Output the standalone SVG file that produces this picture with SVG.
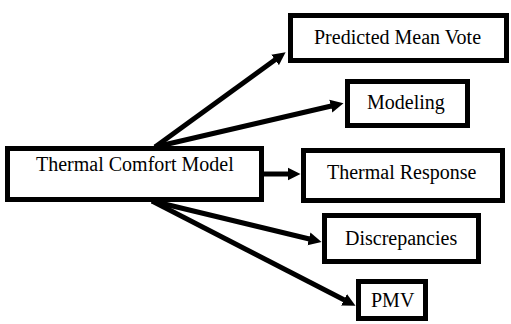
<svg xmlns="http://www.w3.org/2000/svg" width="511" height="324" viewBox="0 0 511 324">
<style>
.box{fill:#fff;stroke:#000;stroke-width:5}
.conn{stroke:#000;stroke-width:5;fill:none;marker-end:url(#ah)}
</style>
<defs>
<marker id="ah" markerUnits="userSpaceOnUse" markerWidth="14" markerHeight="14" viewBox="0 -7 14 14" refX="0.5" refY="0" orient="auto">
<path d="M0,-6.5 L13,0 L0,6.5 z" fill="#000"/>
</marker>
</defs>
<rect width="511" height="324" fill="#fff"/>
<g id="connectors">
<line class="conn" x1="155" y1="147" x2="275.5" y2="59.6"/>
<line class="conn" x1="155" y1="147" x2="331.3" y2="106"/>
<line class="conn" x1="264" y1="174" x2="288" y2="174"/>
<line class="conn" x1="152" y1="201" x2="309.4" y2="239"/>
<line class="conn" x1="152" y1="201" x2="344.4" y2="300"/>
</g>
<g id="thermal-comfort-model">
<rect class="box" x="7.5" y="148.5" width="254" height="51"/>
<text x="36" y="171" font-family="Liberation Serif" font-size="20">Thermal Comfort Model</text>
</g>
<g id="predicted-mean-vote">
<rect class="box" x="290.5" y="15.5" width="216" height="45"/>
<text x="314" y="44" font-family="Liberation Serif" font-size="20">Predicted Mean Vote</text>
</g>
<g id="modeling">
<rect class="box" x="347.5" y="81.5" width="120" height="44"/>
<text x="367" y="109" font-family="Liberation Serif" font-size="20">Modeling</text>
</g>
<g id="thermal-response">
<rect class="box" x="303.5" y="150.5" width="199" height="50"/>
<text x="327" y="179" font-family="Liberation Serif" font-size="20">Thermal Response</text>
</g>
<g id="discrepancies">
<rect class="box" x="324.5" y="215.5" width="154" height="46"/>
<text x="345" y="245" font-family="Liberation Serif" font-size="20">Discrepancies</text>
</g>
<g id="pmv">
<rect class="box" x="358.5" y="281.5" width="67" height="37"/>
<text x="371" y="307" font-family="Liberation Serif" font-size="20">PMV</text>
</g>
</svg>
